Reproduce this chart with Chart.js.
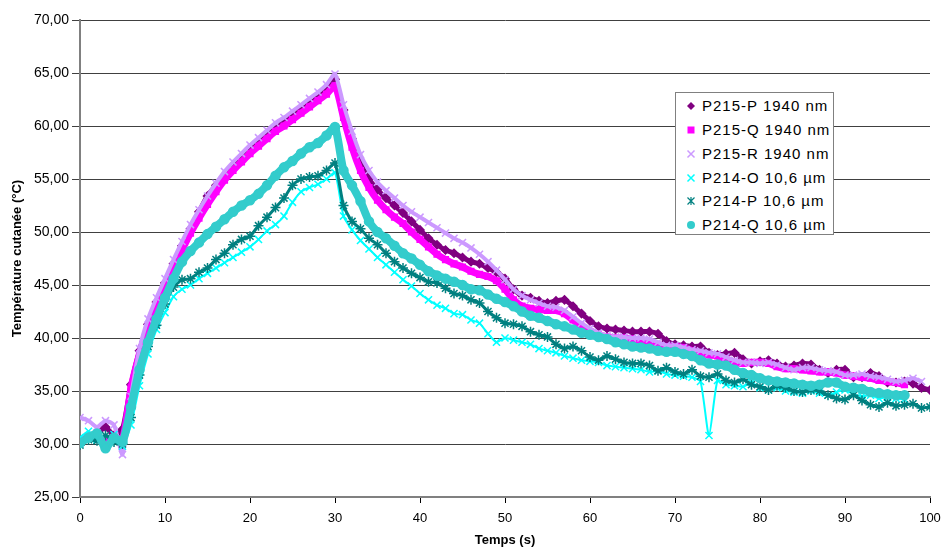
<!DOCTYPE html>
<html lang="fr">
<head>
<meta charset="UTF-8">
<title>Température cutanée</title>
<script src="https://cdn.jsdelivr.net/npm/chart.js"></script>
<style>
  body { margin: 0; background: #fff; }
  #wrap { position: relative; width: 942px; height: 548px; }
  #legend {
    position: absolute; left: 675px; top: 92px; width: 157px; height: 141px;
    border: 1px solid #808080; background: #fff;
    font-family: "Liberation Sans", Arial, sans-serif; font-size: 15px; letter-spacing: 1px; color: #000;
  }
  .item { position: absolute; left: 0; height: 20px; line-height: 20px; white-space: nowrap; }
  .item canvas { position: absolute; left: 8px; top: 3px; }
  .item span { position: absolute; left: 26px; }
</style>
</head>
<body>
<div id="wrap">
  <canvas id="chart" width="942" height="548"></canvas>
  <div id="legend"></div>
</div>
<script>
// temps (s)
const times = [0,1,2,3,4,5,6,7,8,9,10,11,12,13,14,15,16,17,18,19,20,21,22,23,24,25,26,27,28,29,30,
  31,32,33,34,35,36,37,38,39,40,41,42,43,44,45,46,47,48,49,50,51,52,53,54,55,56,57,58,59,60,
  61,62,63,64,65,66,67,68,69,70,71,72,73,74,75,76,77,78,79,80,81,82,83,84,85,86,87,88,89,90,
  91,92,93,94,95,96,97,98,99,100];

const p215P = [30.2,30.8,31.0,31.6,30.8,31.4,35.6,38.8,41.3,43.4,45.2,47.0,48.7,50.3,51.9,53.4,54.4,55.2,56.1,56.9,57.7,
  58.4,59.1,59.8,60.3,60.9,61.5,62.1,62.7,63.4,64.4,61.5,58.8,56.5,55.0,54.0,53.2,52.5,51.8,51.0,50.2,
  49.4,48.8,48.3,48.0,47.6,47.2,47.0,46.6,46.2,45.6,44.6,44.0,43.8,43.5,43.3,43.5,43.6,43.0,42.3,41.6,
  41.1,40.9,40.8,40.7,40.6,40.6,40.6,40.4,39.7,39.4,39.3,39.2,39.2,38.6,38.4,38.5,38.6,38.0,37.6,37.8,
  37.9,37.6,37.3,37.4,37.6,37.5,37.0,36.7,37.0,37.0,36.3,36.3,36.7,36.4,35.8,35.8,35.9,35.7,35.3,35.1];

const p215Q = [30.3,30.8,30.6,30.2,30.6,30.4,35.3,38.5,41.0,43.0,44.8,46.6,48.3,49.9,51.3,52.6,53.8,54.9,55.8,56.6,57.4,
  58.1,58.8,59.5,60.0,60.6,61.2,61.8,62.4,63.0,63.8,60.8,58.0,55.8,54.2,53.0,52.1,51.4,50.8,50.0,49.3,
  48.6,47.9,47.4,47.0,46.7,46.3,46.0,45.8,45.4,44.6,43.6,43.0,42.8,42.7,42.6,42.6,42.3,41.7,41.1,40.6,
  40.3,40.1,40.0,40.0,39.9,39.8,39.6,39.3,39.2,39.2,39.1,38.8,38.6,38.4,38.3,38.0,37.7,37.6,37.7,37.7,
  37.6,37.3,37.1,37.1,37.0,36.9,36.8,36.8,36.7,36.5,36.4,36.3,36.2,36.0,35.9,35.8,35.6];

const p215R = [32.5,32.2,31.6,32.2,31.8,29.0,34.5,39.0,41.8,43.8,45.6,47.4,49.1,50.7,52.1,53.4,54.6,55.7,56.6,57.4,58.2,
  58.9,59.6,60.3,60.8,61.4,62.0,62.6,63.2,63.9,64.9,62.0,59.5,57.3,55.8,54.7,53.9,53.2,52.5,51.9,51.4,
  50.9,50.4,49.9,49.4,49.0,48.5,47.9,47.2,46.4,45.5,44.6,44.0,43.6,43.3,43.0,42.9,42.6,42.0,41.4,40.9,
  40.5,40.2,40.1,40.1,40.0,40.0,39.9,39.6,39.3,39.3,39.1,38.9,38.8,38.6,38.5,38.2,37.9,37.7,37.7,37.6,
  37.7,37.5,37.2,37.0,37.2,37.2,37.0,36.9,36.8,36.5,36.5,36.6,36.4,36.3,36.1,35.9,36.0,36.2,35.9];

const p214O = [30.6,31.2,30.4,30.0,30.9,29.8,31.8,35.5,38.5,40.8,42.4,43.9,44.6,45.0,45.6,46.1,46.6,47.1,47.6,48.1,48.6,
  49.3,50.1,50.7,51.5,52.8,53.8,54.2,54.5,55.0,55.6,51.5,50.2,49.2,48.4,47.6,46.9,46.2,45.5,44.9,44.2,
  43.6,43.1,42.8,42.3,42.2,41.7,41.4,40.4,39.6,40.0,39.8,39.6,39.4,39.0,38.8,38.6,38.3,38.1,37.9,37.8,
  37.7,37.4,37.3,37.2,37.1,37.0,36.8,36.9,36.6,36.5,36.4,36.3,35.9,30.8,36.0,35.6,35.5,35.4,35.8,35.3,
  35.1,35.3,35.0,34.9,34.8,35.0,34.8,34.6,34.9,35.1,34.7,34.5,34.6,34.3,34.4,34.3,34.2];

const p214P = [29.9,30.4,30.3,30.8,30.2,30.0,32.5,36.5,39.2,41.2,43.2,44.8,45.5,45.6,46.2,46.6,47.4,48.0,48.8,49.3,49.6,
  50.6,51.4,52.3,53.2,54.4,55.0,55.2,55.3,55.8,56.5,52.5,51.0,50.3,49.4,48.8,48.0,47.2,46.6,46.1,45.7,
  45.3,45.2,44.7,44.2,44.0,43.6,43.3,42.5,41.9,41.4,41.3,41.1,40.6,40.3,40.1,39.4,39.0,39.2,38.8,38.2,
  37.9,38.3,38.0,37.7,37.6,37.6,37.4,36.9,37.2,36.8,36.6,37.0,36.4,36.3,36.6,36.0,35.8,36.1,35.6,35.4,
  35.1,35.5,35.3,35.0,34.9,35.1,35.0,34.6,34.3,34.2,34.6,34.1,33.7,33.5,33.9,33.6,33.7,33.8,33.4,33.5];

const p214Q = [30.1,30.6,31.0,29.6,30.6,30.2,33.5,37.0,39.6,41.8,43.8,45.6,47.2,48.2,49.0,49.8,50.5,51.2,51.9,52.5,53.0,
  53.6,54.4,55.3,56.1,56.7,57.4,58.0,58.4,59.1,59.9,55.8,54.4,52.9,51.0,50.0,49.4,48.7,48.0,47.5,46.9,
  46.3,45.9,45.6,45.3,45.0,44.6,44.5,44.1,43.7,43.4,43.0,42.5,42.1,41.9,41.6,41.3,41.1,40.8,40.5,40.3,
  40.1,39.9,39.6,39.4,39.2,39.1,39.0,38.8,38.7,38.7,38.5,38.3,37.9,37.6,37.5,37.4,37.0,36.7,36.5,36.2,
  36.0,35.9,35.8,35.7,35.6,35.5,35.6,35.8,35.8,35.4,35.3,35.2,34.9,34.8,34.7,34.6,34.6];

const seriesNames = ["P215-P 1940 nm", "P215-Q 1940 nm", "P215-R 1940 nm", "P214-O 10,6 µm", "P214-P 10,6 µm", "P214-Q 10,6 µm"];
const seriesValues = [p215P, p215Q, p215R, p214O, p214P, p214Q];

const looks = [
  { color: "#800080", style: "rectRot", radius: 4, line: 5 },
  { color: "#FF00FF", style: "rect", radius: 4, line: 7 },
  { color: "#CC99FF", style: "crossRot", radius: 5, line: 4 },
  { color: "#00FFFF", style: "crossRot", radius: 5, line: 2 },
  { color: "#008080", style: "star", radius: 5, line: 3 },
  { color: "#33CCCC", style: "circle", radius: 4.5, line: 8 }
];

const datasets = seriesValues.map((vals, i) => ({
  label: seriesNames[i],
  data: vals.map((v, k) => ({ x: times[k], y: v })),
  borderColor: looks[i].color,
  backgroundColor: looks[i].color,
  borderWidth: looks[i].line,
  pointStyle: looks[i].style,
  pointRadius: looks[i].radius,
  pointBorderWidth: 1.5,
  tension: 0.2,
  order: 6 - i
}));

const fmt = v => v.toFixed(2).replace(".", ",");

new Chart(document.getElementById("chart"), {
  type: "line",
  data: { datasets: datasets },
  options: {
    responsive: false,
    animation: false,
    layout: { padding: { top: 20, right: 12, left: 0, bottom: 0 } },
    plugins: { legend: { display: false }, tooltip: { enabled: false } },
    scales: {
      x: {
        type: "linear", min: 0, max: 100,
        ticks: { stepSize: 10, color: "#000", font: { family: "Liberation Sans", size: 13 }, padding: 8 },
        grid: { drawOnChartArea: false, drawTicks: true, tickLength: 6, color: "#000" },
        border: { color: "#808080", width: 2 },
        title: { display: true, text: "Temps (s)", color: "#000", font: { family: "Liberation Sans", size: 13, weight: "bold" }, padding: { top: 6, bottom: 0 } },
        afterFit: s => { s.height = 51; s.paddingLeft = 0; s.paddingRight = 0; }
      },
      y: {
        min: 25, max: 70,
        ticks: { stepSize: 5, color: "#000", font: { family: "Liberation Sans", size: 14 }, padding: 3, callback: v => fmt(v) },
        grid: { color: "#404040", lineWidth: 1, tickLength: 8 },
        border: { color: "#808080", width: 2 },
        title: { display: true, text: "Température cutanée (°C)", color: "#000", font: { family: "Liberation Sans", size: 13, weight: "bold" }, padding: { top: 10, bottom: 10 } },
        afterFit: s => { s.width = 80; }
      }
    }
  }
});

// legend box drawn in html, markers on small canvases
const legend = document.getElementById("legend");
const rowTops = [3, 27, 51, 75, 98, 122];
seriesNames.forEach((name, i) => {
  const row = document.createElement("div");
  row.className = "item";
  row.style.top = rowTops[i] + "px";
  const c = document.createElement("canvas");
  c.width = 14; c.height = 14;
  const g = c.getContext("2d");
  const col = looks[i].color;
  g.fillStyle = col; g.strokeStyle = col; g.lineWidth = 1.5;
  const m = 7;
  g.beginPath();
  if (i === 0) { g.moveTo(m, m - 4); g.lineTo(m + 4, m); g.lineTo(m, m + 4); g.lineTo(m - 4, m); g.closePath(); g.fill(); }
  else if (i === 1) { g.fillRect(m - 3.5, m - 3.5, 7, 7); }
  else if (i === 2 || i === 3) { g.moveTo(m - 3.5, m - 3.5); g.lineTo(m + 3.5, m + 3.5); g.moveTo(m + 3.5, m - 3.5); g.lineTo(m - 3.5, m + 3.5); g.stroke(); }
  else if (i === 4) { g.lineWidth = 1.2; g.moveTo(m - 3.5, m - 3.5); g.lineTo(m + 3.5, m + 3.5); g.moveTo(m + 3.5, m - 3.5); g.lineTo(m - 3.5, m + 3.5); g.moveTo(m, m - 4); g.lineTo(m, m + 4); g.stroke(); }
  else { g.arc(m, m, 4, 0, Math.PI * 2); g.fill(); }
  const t = document.createElement("span");
  t.textContent = name;
  row.appendChild(c);
  row.appendChild(t);
  legend.appendChild(row);
});
</script>
</body>
</html>
